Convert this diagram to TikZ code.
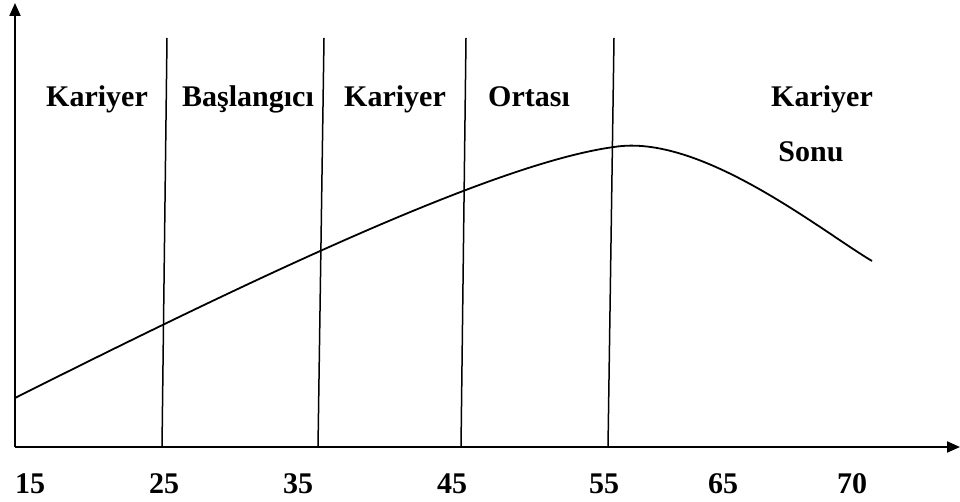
\documentclass[tikz,border=0pt]{standalone}
\usepackage{fontspec}
\setmainfont{Liberation Serif}
\usetikzlibrary{arrows.meta}
\begin{document}
\begin{tikzpicture}[x=1pt,y=-1pt,
  axis/.style={line width=2pt,-{Triangle[length=13pt,width=11pt]}},
  divider/.style={line width=1.5pt},
  curve/.style={line width=1.8pt},
  lbl/.style={font=\bfseries\fontsize{30}{30}\selectfont,inner sep=0pt,anchor=base},
  tick/.style={font=\bfseries\fontsize{30}{30}\selectfont,inner sep=0pt,anchor=base west}]
\useasboundingbox (0,0) rectangle (960,502);
\coordinate (O) at (15,447);
\coordinate (Ytop) at (15,3);
\coordinate (Xend) at (960,447);
\draw[axis] (O) -- (Ytop);
\draw[axis] (O) -- (Xend);
% dividers
\coordinate (d1t) at (167,38); \coordinate (d1b) at (162,447);
\coordinate (d2t) at (324,38); \coordinate (d2b) at (318,447);
\coordinate (d3t) at (466,38); \coordinate (d3b) at (461,447);
\coordinate (d4t) at (614,38); \coordinate (d4b) at (608,447);
\draw[divider] (d1t) -- (d1b);
\draw[divider] (d2t) -- (d2b);
\draw[divider] (d3t) -- (d3b);
\draw[divider] (d4t) -- (d4b);
% curve
\coordinate (c0) at (15,398);
\coordinate (cp) at (614,147);
\coordinate (c1) at (872,261);
\draw[curve] (c0) .. controls (250,280) and (495,163) .. (cp)
  .. controls (700,133) and (820,230) .. (c1);
% labels
\node[lbl] (k1) at (97,107) {Kariyer};
\node[lbl] (b1) at (248,107) {Başlangıcı};
\node[lbl] (k2) at (395,107) {Kariyer};
\node[lbl] (o1) at (529,107) {Ortası};
\node[lbl] (k3) at (822,107) {Kariyer};
\node[lbl] (s1) at (811,162) {Sonu};
% ticks
\node[tick] (t15) at (15,493) {15};
\node[tick] (t25) at (149,493) {25};
\node[tick] (t35) at (283,493) {35};
\node[tick] (t45) at (437,493) {45};
\node[tick] (t55) at (589,493) {55};
\node[tick] (t65) at (708,493) {65};
\node[tick] (t70) at (837,493) {70};
\end{tikzpicture}
\end{document}
